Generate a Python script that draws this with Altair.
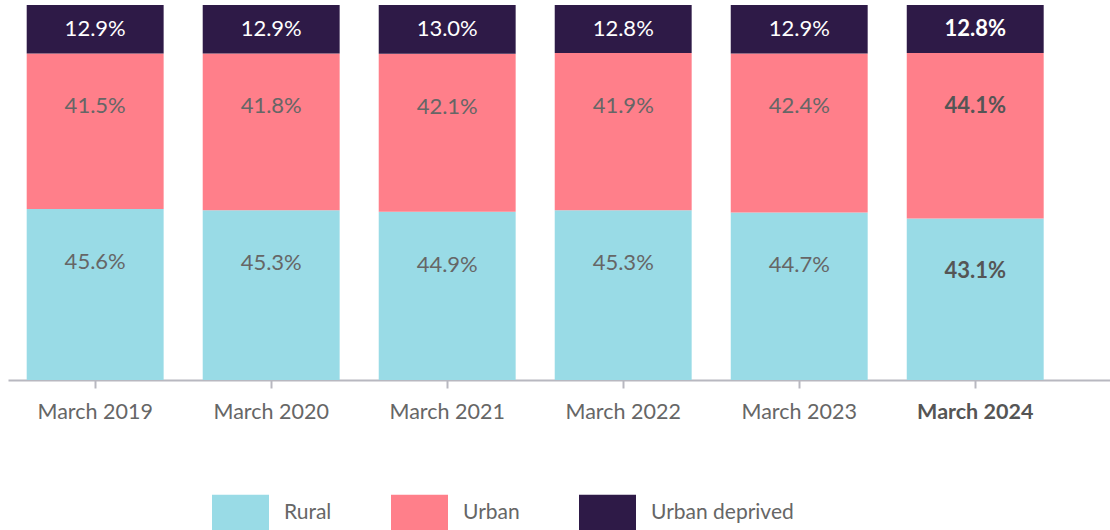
import altair as alt
import pandas as pd

years = ["March 2019", "March 2020", "March 2021", "March 2022", "March 2023", "March 2024"]
series = ["Rural", "Urban", "Urban deprived"]
rural = [45.6, 45.3, 44.9, 45.3, 44.7, 43.1]
urban = [41.5, 41.8, 42.1, 41.9, 42.4, 44.1]
deprived = [12.9, 12.9, 13.0, 12.8, 12.9, 12.8]
colors = ["#99DBE6", "#FF7F8A", "#2E1A47"]

rows = []
for i, yr in enumerate(years):
    base = 0.0
    for j, (s, vals) in enumerate(zip(series, [rural, urban, deprived])):
        v = vals[i]
        rows.append(dict(year=yr, series=s, value=v, order=j, y0=base, y1=base + v,
                         mid=base + v / 2, label=f"{v:.1f}%",
                         latest=(yr == years[-1]), top=(s == "Urban deprived")))
        base += v
df = pd.DataFrame(rows)

FONT = "Lato"

x_enc = alt.X(
    "year:N", sort=years,
    scale=alt.Scale(paddingInner=0.222, paddingOuter=0.2415, align=0.22),
    axis=alt.Axis(
        title=None, labelAngle=0, labelFont=FONT, labelFontSize=21.5,
        labelColor=alt.expr("datum.value == 'March 2024' ? '#555555' : '#666666'"),
        labelFontWeight=alt.expr("datum.value == 'March 2024' ? 'bold' : 'normal'"),
        tickColor="#B8B8C0", tickSize=8, tickWidth=2,
        domainColor="#B8B8C0", domainWidth=2, labelPadding=13, grid=False,
    ),
)

base = alt.Chart(df)

bars = base.mark_bar().encode(
    x=x_enc,
    y=alt.Y("y0:Q", scale=alt.Scale(domain=[0, 100], nice=False), axis=None),
    y2="y1:Q",
    color=alt.Color(
        "series:N",
        scale=alt.Scale(domain=series, range=colors),
        legend=alt.Legend(
            title=None, orient="none", legendX=204, legendY=479,
            direction="horizontal",
            symbolType="M-1,-0.63H1V0.63H-1Z", symbolSize=3249,
            symbolStrokeWidth=0, symbolOpacity=1,
            labelFont=FONT, labelFontSize=21, labelColor="#666666",
            labelOffset=15, columnPadding=59,
        ),
    ),
)

def text_layer(latest, top):
    src = base.transform_filter(
        (alt.datum.latest == latest) & (alt.datum.top == top)
    )
    if top:
        mk = src.mark_text(font=FONT, fontSize=22, color="#FFFFFF",
                           fontWeight="bold" if latest else "normal", baseline="middle")
        return mk.encode(x=alt.X("year:N", sort=years), y="mid:Q", text="label:N")
    mk = src.mark_text(font=FONT, fontSize=22,
                       color="#555555" if latest else "#666666",
                       fontWeight="bold" if latest else "normal",
                       baseline="middle", dy=53)
    return mk.encode(x=alt.X("year:N", sort=years), y="y1:Q", text="label:N")

chart = alt.layer(
    bars,
    text_layer(False, False), text_layer(False, True),
    text_layer(True, False), text_layer(True, True),
).properties(
    width=1102, height=375,
    padding={"left": 8, "top": 5, "right": 0, "bottom": 150},
    autosize=alt.AutoSizeParams(type="none"),
).configure_view(stroke=None)

chart.save("out.html", embed_options={"renderer": "svg", "actions": False})
